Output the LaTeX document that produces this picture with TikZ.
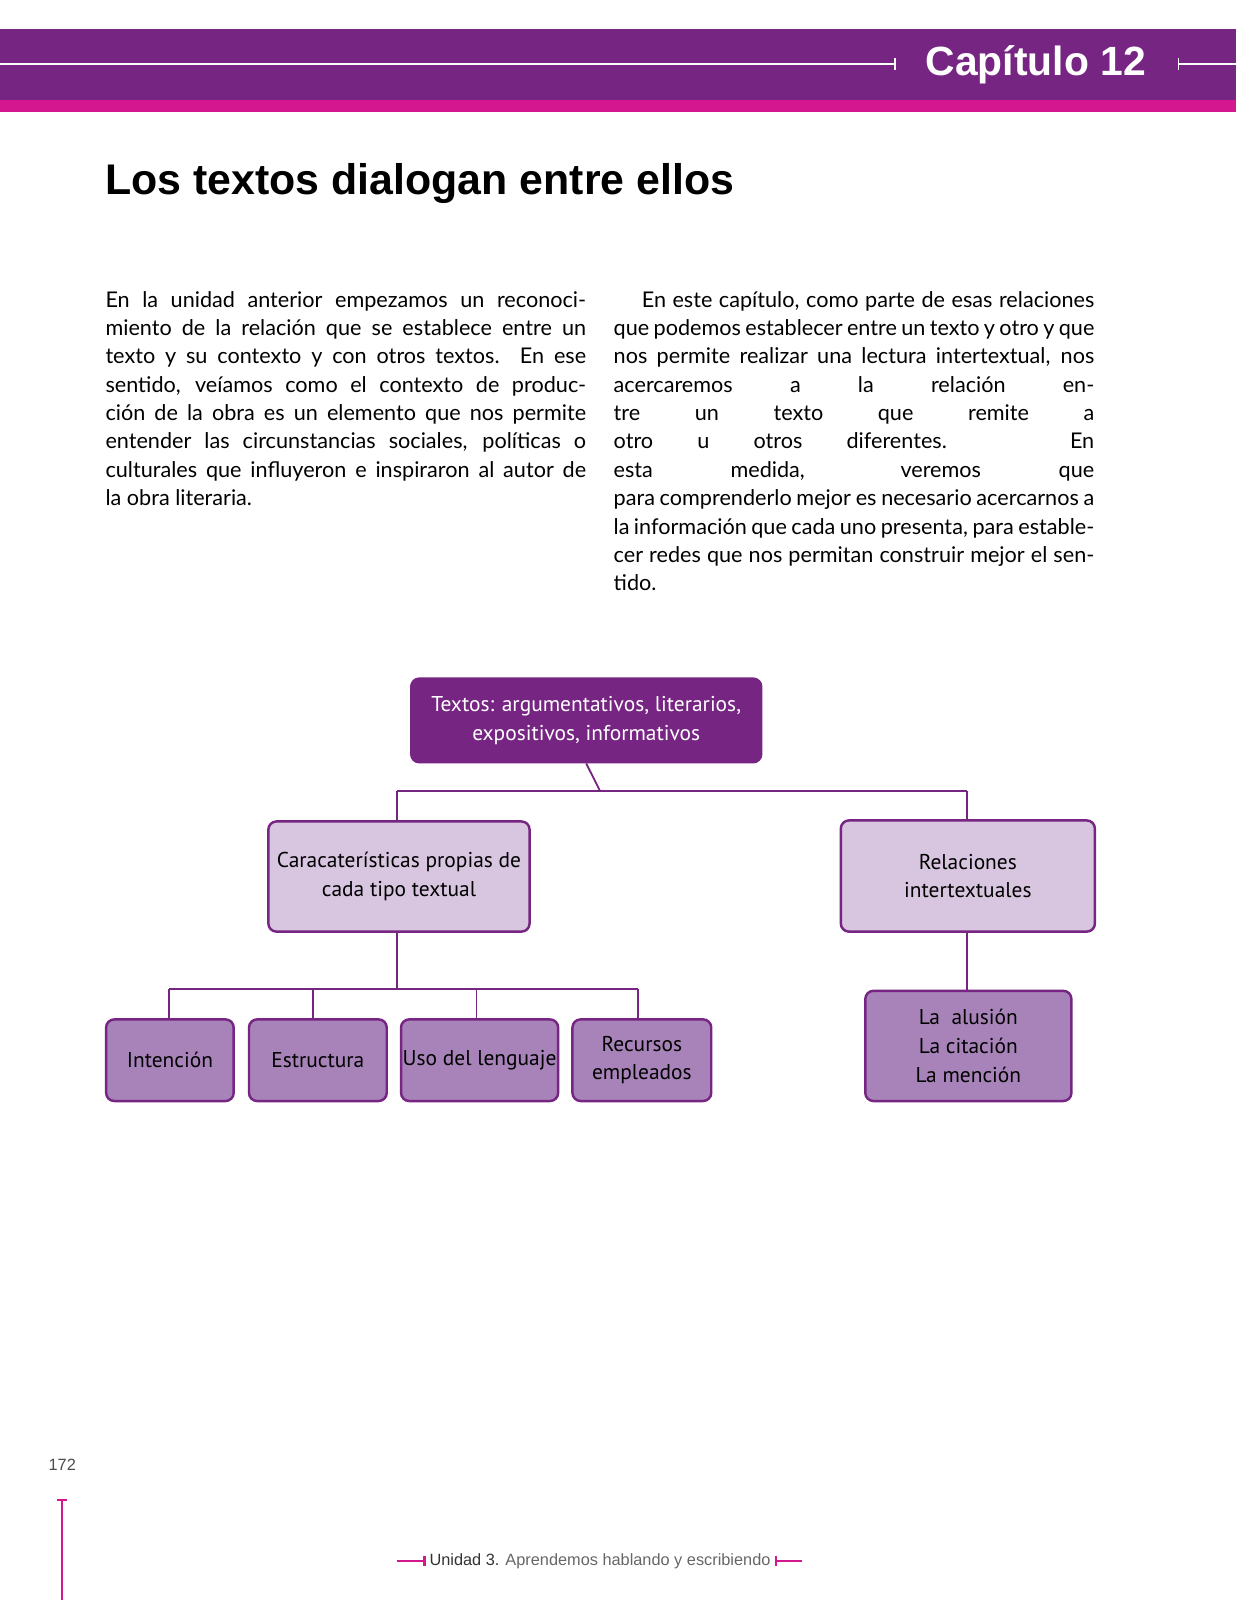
\documentclass[tikz,border=0pt]{standalone}
\usepackage{fontspec}
\setmainfont{Lato}
\newfontfamily\hd{Liberation Sans}
\newfontfamily\nd{PT Sans}
\definecolor{pur}{HTML}{772583}
\definecolor{mag}{HTML}{D4168F}
\definecolor{lite}{HTML}{D8C5E0}
\definecolor{mid}{HTML}{A883B9}
\begin{document}
\begin{tikzpicture}[x=0.5pt,y=-0.5pt,
 box/.style={draw=pur,line width=1.2pt,rounded corners=4pt,align=center,font=\nd\fontsize{10.5}{14}\selectfont,inner sep=0pt},
 ln/.style={draw=pur,line width=0.9pt},
 para/.style={anchor=north west,text width=235.5pt,align=justify,inner sep=0pt,font=\fontsize{10.6}{13.9}\selectfont}]
\useasboundingbox (0,0) rectangle (1211,1568);
\fill[pur] (0,28) rectangle (1211,98);
\fill[mag] (0,98) rectangle (1211,110);
\draw[white,line width=0.8pt] (0,63) -- (877,63) (877,57) -- (877,69);
\draw[white,line width=0.8pt] (1155,57) -- (1155,69) (1155,63) -- (1211,63);
\node[white,font=\hd\bfseries\fontsize{20}{24}\selectfont] (cap) at (1015,63) {Capítulo 12};
\node[anchor=west,font=\hd\bfseries\fontsize{21}{25}\selectfont,inner sep=0pt] (title) at (103,180) {Los textos dialogan entre ellos};
\node[para] (p1) at (103,285) {En la unidad anterior empezamos un reconoci-\linebreak miento de la relación que se establece entre un\linebreak texto y su contexto y con otros textos. En ese\linebreak sentido, veíamos como el contexto de produc-\linebreak ción de la obra es un elemento que nos permite\linebreak entender las circunstancias sociales, políticas o\linebreak culturales que influyeron e inspiraron al autor de\linebreak la obra literaria.};
\node[para] (p2) at (601,285) {\hspace*{1.3em}En este capítulo, como parte de esas relaciones\linebreak que podemos establecer entre un texto y otro y que\linebreak nos permite realizar una lectura intertextual, nos\linebreak acercaremos a la relación entre un texto que remite a\linebreak otro u otros diferentes. En esta medida, veremos que\linebreak para comprenderlo mejor es necesario acercarnos a\linebreak la información que cada uno presenta, para estable-\linebreak cer redes que nos permitan construir mejor el sentido.};
\node[box,fill=pur,text=white,minimum width=171.5pt,minimum height=41pt] (top) at (574.5,706) {Textos: argumentativos, literarios,\\expositivos, informativos};
\node[box,fill=lite,minimum width=128pt,minimum height=54pt] (car) at (391,859) {Caracaterísticas propias de\\cada tipo textual};
\node[box,fill=lite,minimum width=124.5pt,minimum height=54.5pt] (rel) at (948.5,858.5) {Relaciones\\intertextuales};
\node[box,fill=mid,minimum width=62.5pt,minimum height=40pt] (int) at (166.5,1039) {Intención};
\node[box,fill=mid,minimum width=67.5pt,minimum height=40pt] (est) at (311.5,1039) {Estructura};
\node[box,fill=mid,minimum width=77pt,minimum height=40pt] (uso) at (470,1039) {Uso del lenguaje};
\node[box,fill=mid,minimum width=68pt,minimum height=40pt] (rec) at (629,1039) {Recursos\\empleados};
\node[box,fill=mid,minimum width=101pt,minimum height=54pt] (ala) at (949,1025) {La \ alusión\\La citación\\La mención};
\draw[ln] (top.south) -- (588,775) coordinate (j1);
\draw[ln] (389,775) -- (948,775);
\draw[ln] (389,775) -- (389,805.5);
\draw[ln] (948,775) -- (948,804);
\draw[ln] (389,913) -- (389,969);
\draw[ln] (166,969) -- (625,969);
\draw[ln] (166,969) -- (166,999) (307,969) -- (307,999) (467,969) -- (467,999) (625,969) -- (625,999);
\draw[ln] (948,913) -- (948,971);
\node[font=\hd\fontsize{8}{10}\selectfont,text=black!70] (pg) at (61,1435) {172};
\draw[mag,line width=1pt] (61,1470) -- (61,1568) (56,1470) -- (66,1470);
\node[font=\hd\fontsize{8}{10}\selectfont,text=black!60] (foot) at (588,1530) {\textcolor{black!80}{Unidad 3.} Aprendemos hablando y escribiendo};
\draw[mag,line width=1pt] (389,1530) -- (416,1530) (416,1525) -- (416,1535);
\draw[mag,line width=1pt] (760,1530) -- (786,1530) (760,1525) -- (760,1535);
\end{tikzpicture}
\end{document}
